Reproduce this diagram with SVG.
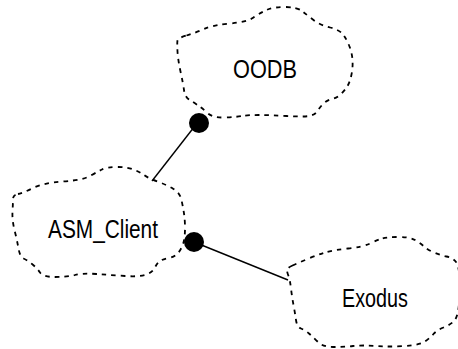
<svg xmlns="http://www.w3.org/2000/svg" width="458" height="349" viewBox="0 0 458 349">
<style>
.cloud{fill:none;stroke:#000;stroke-width:1.8;stroke-dasharray:4.5 5}
.lbl{font-family:"Liberation Sans",Arial,sans-serif;font-size:26px;fill:#000}
.conn{stroke:#000;stroke-width:1.4;fill:none}
.dot{fill:#000}
</style>
<rect width="458" height="349" fill="#fff"/>
<g id="connectors">
<line class="conn" x1="198" y1="122" x2="152" y2="181"/>
<line class="conn" x1="194" y1="242" x2="288" y2="280"/>
<circle class="dot" cx="199" cy="123" r="10"/>
<circle class="dot" cx="194" cy="242" r="10"/>
</g>
<g id="OODB">
<path class="cloud" d="M 186.5,35.5 Q 195,33 204,29 Q 213,25 230,23.5 Q 247,22 253.5,17.5 Q 260,13 266.5,10 Q 273,7 285,7 Q 297,7 302,11 Q 307,15 313.5,20 Q 320,25 330,27.5 Q 340,30 343.5,35 Q 347,40 349.5,46.5 Q 352,53 352.5,60 Q 353,67 351.5,74.5 Q 350,82 347.5,86 Q 345,90 341,94 Q 337,98 332,99 Q 327,100 323.5,103.5 Q 320,107 317.5,111 Q 315,115 309,116 Q 303,117 286.5,116 Q 270,115 258.5,115 Q 247,115 242,116 Q 237,117 225,117.5 Q 213,118 207.5,113 Q 202,108 197.5,105 Q 193,102 189,99.5 Q 185,97 184,90 Q 183,83 180.5,71.5 Q 178,60 177.5,51.5 Q 177,43 177.5,40.5 Q 178,38 186.5,35.5 Z"/>
<text class="lbl" x="233" y="78" textLength="64" lengthAdjust="spacingAndGlyphs">OODB</text>
</g>
<g id="ASM_Client">
<path class="cloud" d="M 18,194 Q 23,193 33,188 Q 43,183 63,181.5 Q 83,180 90,176 Q 97,172 102,169.5 Q 107,167 117,167 Q 127,167 133.5,169.5 Q 140,172 144,175 Q 148,178 157.5,181.5 Q 167,185 173.5,189 Q 180,193 181.5,200 Q 183,207 184,213.5 Q 185,220 185,228.5 Q 185,237 183.5,242.5 Q 182,248 178.5,252.5 Q 175,257 169,258 Q 163,259 160,261 Q 157,263 155,267.5 Q 153,272 146.5,274.5 Q 140,277 125,276 Q 110,275 96.5,274 Q 83,273 75,275 Q 67,277 55,277 Q 43,277 40,272.5 Q 37,268 32,264 Q 27,260 23.5,258.5 Q 20,257 18.5,248.5 Q 17,240 14.5,230 Q 12,220 12.5,211.5 Q 13,203 13,199 Q 13,195 18,194 Z"/>
<text class="lbl" x="48" y="238" textLength="110" lengthAdjust="spacingAndGlyphs">ASM_Client</text>
</g>
<g id="Exodus">
<path class="cloud" d="M 292.5,265.5 Q 298,263 307.5,259 Q 317,255 325,252.5 Q 333,250 348,248.5 Q 363,247 370,243.5 Q 377,240 382,238.5 Q 387,237 398.5,237 Q 410,237 415,240 Q 420,243 424,246.5 Q 428,250 434,252.5 Q 440,255 446.5,256.5 Q 453,258 456,262 Q 459,266 459.5,278 Q 460,290 459,303.5 Q 458,317 454,321 Q 450,325 443.5,327.5 Q 437,330 433.5,334 Q 430,338 425,341.5 Q 420,345 405,346 Q 390,347 376.5,346 Q 363,345 353,346 Q 343,347 333,347 Q 323,347 318,342 Q 313,337 309,333.5 Q 305,330 301,328.5 Q 297,327 296,320 Q 295,313 293.5,305 Q 292,297 291,288.5 Q 290,280 288.5,276 Q 287,272 287,270 Q 287,268 292.5,265.5 Z"/>
<text class="lbl" x="342" y="307" textLength="66" lengthAdjust="spacingAndGlyphs">Exodus</text>
</g>
</svg>
